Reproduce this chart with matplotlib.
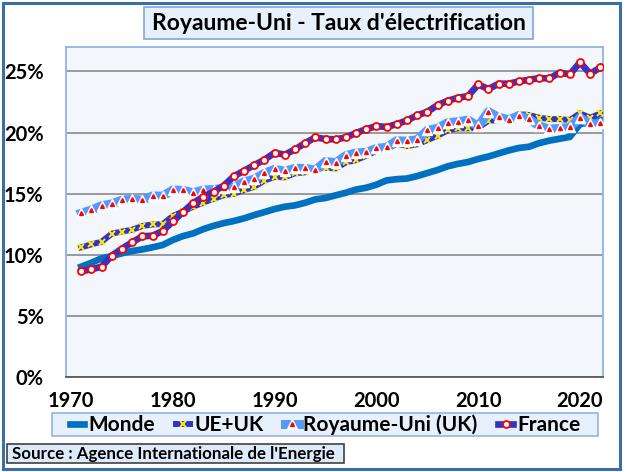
import matplotlib
matplotlib.use("Agg")
import matplotlib.pyplot as plt
from matplotlib.patches import Rectangle
from matplotlib.ticker import MultipleLocator, FuncFormatter

plt.rcParams['font.family'] = ['Lato', 'DejaVu Sans']

# taux d'electrification (% de la consommation finale)
years = list(range(1971, 2023))

monde = [9.05, 9.37, 9.73, 9.92, 10.14, 10.33, 10.46, 10.63, 10.82, 11.23,
         11.55, 11.77, 12.12, 12.39, 12.61, 12.78, 13.0, 13.27, 13.51, 13.76,
         13.95, 14.06, 14.27, 14.55, 14.66, 14.88, 15.09, 15.35, 15.5, 15.75,
         16.1, 16.2, 16.25, 16.45, 16.7, 16.95, 17.25, 17.45, 17.6, 17.85,
         18.05, 18.3, 18.55, 18.75, 18.85, 19.15, 19.35, 19.5, 19.65, 20.7,
         20.85, 21.0]

ue_uk = [10.63, 10.87, 11.09, 11.75, 11.92, 12.07, 12.37, 12.5, 12.52, 13.19,
         13.56, 13.95, 14.29, 14.6, 14.88, 15.01, 15.31, 15.58, 16.09, 16.38,
         16.35, 16.68, 16.76, 17.05, 17.13, 17.08, 17.57, 17.76, 18.11, 18.52,
         18.66, 19.1, 18.9, 19.05, 19.39, 19.75, 20.18, 20.35, 20.35, 20.4,
         20.97, 21.03, 21.06, 21.52, 21.44, 21.22, 21.11, 21.11, 21.03, 21.57,
         21.22, 21.57]

uk = [13.41, 13.68, 14.03, 14.17, 14.49, 14.55, 14.49, 14.82, 14.82, 15.31,
      15.28, 15.09, 15.31, 15.35, 15.45, 15.55, 15.98, 16.2, 16.68, 17.0,
      16.85, 17.08, 17.08, 16.94, 17.64, 17.54, 18.12, 18.34, 18.39, 18.71,
      18.8, 19.34, 19.3, 19.42, 20.18, 20.35, 20.81, 20.89, 21.03, 20.51,
      21.71, 21.25, 21.06, 21.38, 21.1, 20.54, 20.29, 20.35, 20.43, 21.22,
      20.68, 20.76]

france = [8.67, 8.83, 9.05, 9.95, 10.52, 11.04, 11.53, 11.58, 11.96, 12.75,
          13.51, 14.27, 14.76, 15.17, 15.67, 16.44, 16.89, 17.35, 17.79, 18.36,
          18.2, 18.63, 19.15, 19.61, 19.48, 19.45, 19.61, 19.97, 20.29, 20.54,
          20.46, 20.7, 21.0, 21.42, 21.7, 22.25, 22.61, 22.85, 22.99, 23.94,
          23.56, 24.0, 24.0, 24.19, 24.32, 24.46, 24.43, 24.9, 24.76, 25.74,
          24.81, 25.33]

labels = ["Monde", "UE+UK", "Royaume-Uni (UK)", "France"]

W, H = 626, 472
def fx(px):
    return px / W
def fy(py):
    return 1 - py / H

fig = plt.figure(figsize=(W / 100, H / 100), dpi=100)
fig.patch.set_facecolor('white')

ax = fig.add_axes([fx(66), fy(377.4), fx(603) - fx(66), fy(47) - fy(377.4)])
ax.set_facecolor('#f3f7fc')
for s in ax.spines.values():
    s.set_color('#8fb4e6')
    s.set_linewidth(1.3)
ax.spines['bottom'].set_color('#595959')

ax.set_xlim(1969.5, 2022.26)
ax.set_ylim(0, 27)
ax.set_xticks(range(1970, 2021, 10))
ax.yaxis.set_major_locator(MultipleLocator(5))
ax.yaxis.set_major_formatter(FuncFormatter(lambda v, p: "%d%%" % v))
ax.grid(axis='y', color='#808080', lw=1.1)
ax.set_axisbelow(True)
ax.tick_params(length=0, labelsize=14.5)
ax.tick_params(axis='y', pad=16)
ax.tick_params(axis='x', pad=10)
for t in ax.get_xticklabels() + ax.get_yticklabels():
    t.set_fontweight('bold')

l1, = ax.plot(years, monde, color='#0070c0', lw=4.8, solid_joinstyle='round', zorder=3)
l2, = ax.plot(years, ue_uk, color='#3333cc', lw=4.3, marker='x', ms=4,
              mec='#ffee00', mew=1.4, solid_joinstyle='round', zorder=4)
l3, = ax.plot(years, uk, color='#5599ff', lw=6.5, marker='^', ms=6.5,
              mfc='white', mec='white', solid_joinstyle='round', zorder=5)
l3b, = ax.plot(years, uk, ls='none', marker='^', ms=2.8, color='#ff0000', zorder=5)
l4, = ax.plot(years, france, color='#3333cc', lw=4.8, marker='o', ms=5,
              mfc='white', mec='#ff0000', mew=1.3, solid_joinstyle='round', zorder=6)

# boxes
fig.add_artist(Rectangle((fx(3), fy(469)), fx(620) - fx(3), fy(3) - fy(469),
                         transform=fig.transFigure, fill=False,
                         ec='#3a6ea5', lw=2.2))
fig.add_artist(Rectangle((fx(144), fy(39)), fx(533) - fx(144), fy(7) - fy(39),
                         transform=fig.transFigure, fc='#e8f0fb', ec='#7fa7e0', lw=1.2))
fig.text(fx(338.5), fy(23), "Royaume-Uni - Taux d'électrification", ha='center',
         va='center', fontsize=16.5, fontweight='bold')

fig.add_artist(Rectangle((fx(52), fy(436)), fx(598) - fx(52), fy(413) - fy(436),
                         transform=fig.transFigure, fc='#e8f0fb', ec='#8fb4e6', lw=1.2))
fig.legend([l1, l2, (l3, l3b), l4], labels, loc='center',
           bbox_to_anchor=(fx(325), fy(425)), ncol=4, frameon=False,
           prop={'size': 15, 'weight': 'bold'}, handlelength=0.7,
           handletextpad=0.2, columnspacing=1.0, borderpad=0)

fig.add_artist(Rectangle((fx(7), fy(463)), fx(344) - fx(7), fy(444) - fy(463),
                         transform=fig.transFigure, fc='#dceafa', ec='#404040', lw=1.2))
fig.text(fx(12), fy(454), "Source : Agence Internationale de l'Energie", ha='left',
         va='center', fontsize=12.2, fontweight='bold')

fig.savefig('out.png', dpi=100)
